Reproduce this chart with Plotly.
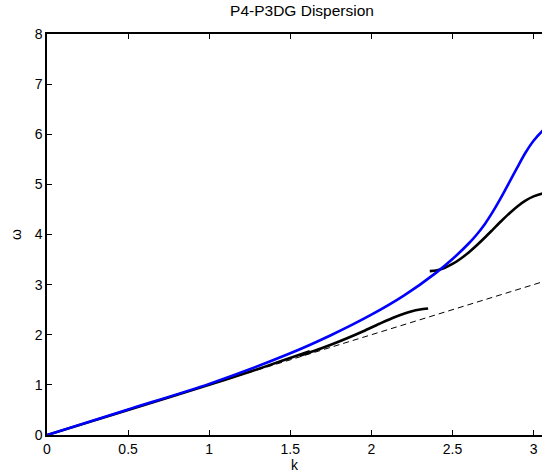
import plotly.graph_objects as go

# Blue branch
k_blue = [0, 0.5, 1.0, 1.5, 1.75, 2.0, 2.2, 2.4, 2.5, 2.6, 2.65, 2.7, 2.75, 2.8,
          2.85, 2.9, 2.95, 3.0, 3.05, 3.1, 3.1416]
w_blue = [0, 0.51, 1.02, 1.63, 1.99, 2.40, 2.78, 3.24, 3.51, 3.82, 4.00, 4.21, 4.46, 4.74,
          5.04, 5.34, 5.63, 5.87, 6.05, 6.19, 6.27]

# Black lower branch (two short pieces)
k_low_a = [0, 0.5, 1.0, 1.25, 1.44, 1.62]
w_low_a = [0, 0.5, 1.0, 1.26, 1.47, 1.67]
k_low_b = [1.56, 1.65, 1.75, 1.85, 1.95, 2.05, 2.15, 2.25, 2.30, 2.35]
w_low_b = [1.58, 1.68, 1.80, 1.93, 2.07, 2.22, 2.36, 2.47, 2.505, 2.525]

# Black upper branch
k_up = [2.36, 2.40, 2.45, 2.5, 2.55, 2.6, 2.65, 2.7, 2.75, 2.8, 2.85, 2.9, 2.95,
        3.0, 3.05, 3.1, 3.1416]
w_up = [3.27, 3.282, 3.332, 3.412, 3.517, 3.642, 3.785, 3.940, 4.102, 4.265, 4.420,
        4.560, 4.675, 4.760, 4.815, 4.845, 4.857]

# Exact dispersion
k_exact = [0, 3.1416]
w_exact = [0, 3.1416]

fig = go.Figure()
fig.add_trace(go.Scatter(x=k_exact, y=w_exact, mode="lines",
                         line=dict(color="black", width=1, dash="6px,4px")))
for kx, wy in [(k_low_a, w_low_a), (k_low_b, w_low_b), (k_up, w_up)]:
    fig.add_trace(go.Scatter(x=kx, y=wy, mode="lines",
                             line=dict(color="black", width=2.6, shape="spline", smoothing=0.8)))
fig.add_trace(go.Scatter(x=k_blue, y=w_blue, mode="lines",
                         line=dict(color="#0000ff", width=2.6, shape="spline", smoothing=0.8)))

fam = "Liberation Sans, Arial, sans-serif"

fig.update_layout(
    width=542, height=476,
    margin=dict(l=47, r=0, t=34, b=41),
    paper_bgcolor="white", plot_bgcolor="white",
    showlegend=False,
    font=dict(family=fam, size=14, color="black"),
    title=dict(text="P4-P3DG Dispersion", x=302/542, xanchor="center",
               y=1 - 11/476, yanchor="middle", font=dict(size=15.5, family=fam)),
    xaxis=dict(range=[0, 3.052], tickvals=[0, 0.5, 1, 1.5, 2, 2.5, 3],
               ticktext=["0", "0.5", "1", "1.5", "2", "2.5", "3"],
               ticks="inside", ticklen=5, tickcolor="black", showline=True,
               linecolor="black", linewidth=1.5, mirror="ticks", showgrid=False,
               zeroline=False, tickfont=dict(size=14),
               title=dict(text="k", standoff=3, font=dict(size=14))),
    yaxis=dict(range=[0, 8], tickvals=list(range(9)),
               ticks="inside", ticklen=5, tickcolor="black", showline=True,
               linecolor="black", linewidth=1.5, mirror=False, showgrid=False,
               zeroline=False, tickfont=dict(size=14),
               title=dict(text="ω", standoff=10, font=dict(size=14))),
)

fig.write_html("out.html")
